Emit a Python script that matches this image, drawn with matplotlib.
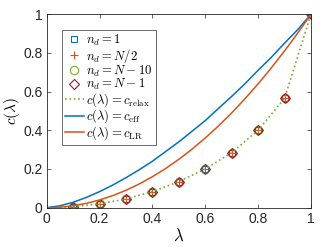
import matplotlib
matplotlib.use("Agg")
import matplotlib.pyplot as plt

plt.rcParams['font.family'] = ['Liberation Sans', 'DejaVu Sans']
plt.rcParams['mathtext.fontset'] = 'cm'

# sample points (markers)
lam_pts = [0.1, 0.2, 0.3, 0.4, 0.5, 0.6, 0.7, 0.8, 0.9, 1.0]
c_pts = [0.005, 0.02, 0.045, 0.083, 0.135, 0.2, 0.285, 0.4, 0.565, 1.0]

# relaxation curve (dotted) through the same points
lam_relax = [0.0] + lam_pts
c_relax = [0.0] + c_pts

# smooth curves
lam_curve = [0.0, 0.05, 0.1, 0.15, 0.2, 0.25, 0.3, 0.35, 0.4, 0.45, 0.5,
             0.55, 0.6, 0.65, 0.7, 0.75, 0.8, 0.85, 0.9, 0.95, 1.0]
c_eff = [0.0, 0.01, 0.028, 0.053, 0.083, 0.117, 0.155, 0.196, 0.24, 0.29, 0.34,
         0.395, 0.45, 0.513, 0.575, 0.64, 0.71, 0.777, 0.85, 0.92, 1.0]
c_lr = [0.0, 0.0025, 0.01, 0.0225, 0.04, 0.0625, 0.09, 0.1225, 0.16, 0.2025, 0.25,
        0.3025, 0.36, 0.4225, 0.49, 0.5625, 0.64, 0.7225, 0.81, 0.9025, 1.0]

blue = '#0072BD'
orange = '#D95319'
green = '#77AC30'
dred = '#A2142F'

fig = plt.figure(figsize=(3.33, 2.47), dpi=100)
ax = fig.add_axes([0.140, 0.159, 0.794, 0.784])

ax.plot(lam_pts, c_pts, 's', color=blue, mfc='none', ms=5, mew=0.8, label=r'$n_d = 1$')
ax.plot(lam_pts, c_pts, '+', color=orange, ms=6, mew=0.8, label=r'$n_d = N/2$')
ax.plot(lam_pts, c_pts, 'o', color=green, mfc='none', ms=6, mew=0.8, label=r'$n_d = N-10$')
ax.plot(lam_pts, c_pts, 'D', color=dred, mfc='none', ms=5, mew=0.8, label=r'$n_d = N-1$')
ax.plot(lam_relax, c_relax, ':', color=green, lw=1.2, label=r'$c(\lambda) = c_{\mathrm{relax}}$')
ax.plot(lam_curve, c_eff, '-', color=blue, lw=1.1, label=r'$c(\lambda) = c_{\mathrm{eff}}$')
ax.plot(lam_curve, c_lr, '-', color=orange, lw=1.1, label=r'$c(\lambda) = c_{\mathrm{LR}}$')

ax.set_xlim(0, 1)
ax.set_ylim(0, 1)
ax.set_xticks([0, 0.2, 0.4, 0.6, 0.8, 1])
ax.set_yticks([0, 0.2, 0.4, 0.6, 0.8, 1])
ax.set_xticklabels(['0', '0.2', '0.4', '0.6', '0.8', '1'])
ax.set_yticklabels(['0', '0.2', '0.4', '0.6', '0.8', '1'])
ax.tick_params(direction='in', top=True, right=True, labelsize=10,
               colors='#262626', length=3, width=0.5, pad=3)
for s in ax.spines.values():
    s.set_color('#262626')
    s.set_linewidth(0.6)

ax.set_xlabel(r'$\lambda$', fontsize=12, labelpad=1)
ax.set_ylabel(r'$c(\lambda)$', fontsize=11, labelpad=1)

leg = ax.legend(loc='upper left', bbox_to_anchor=(0.057, 0.92), fontsize=9.2,
                frameon=True, fancybox=False, edgecolor='#262626',
                borderpad=0.25, labelspacing=-0.1, handlelength=1.5,
                handletextpad=0.15, borderaxespad=0)
leg.get_frame().set_linewidth(0.6)

fig.savefig('out.png', dpi=100)
